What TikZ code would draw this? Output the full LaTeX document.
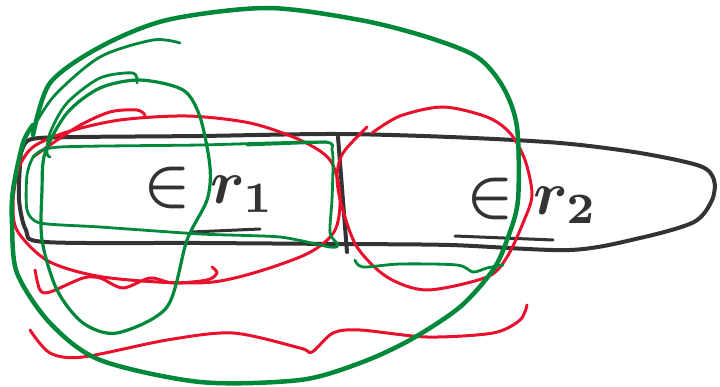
\documentclass[tikz,border=0pt]{standalone}
\definecolor{penred}{HTML}{E8112D}
\definecolor{pengreen}{HTML}{00883A}
\definecolor{penblack}{HTML}{333333}
\begin{document}
\begin{tikzpicture}[x=1pt,y=-1pt,
  inkblack/.style={line width=4pt,penblack,line cap=round,line join=round},
  inkred/.style={line width=3pt,penred,line cap=round,line join=round},
  inkgreen/.style={line width=2.8pt,pengreen,line cap=round,line join=round},
  inkgreenthick/.style={inkgreen,line width=4.5pt},
  handlabel/.style={penblack,scale=6.2,inner sep=0pt,font=\boldmath}]
  \useasboundingbox (0,0) rectangle (720,387);
  % labels
  \node[handlabel] (reg1) at (209,190) {$\in r_1$};
  \node[handlabel] (reg2) at (532,201) {$\in r_2$};
  % the long black shape
  \draw[inkblack] plot[smooth cycle,tension=0.5] coordinates {(22,150) (32,139) (80,137) (200,136)
    (335,134) (450,137) (560,143) (640,153) (700,166) (714,180) (712,200) (694,222) (640,238)
    (570,250) (450,245) (340,244) (200,243) (45,242) (26,230) (19,200) (20,165)};
  \draw[inkblack] (338,137) -- (347,252);
  \draw[inkblack,line width=3pt] (192,232) -- (260,229);
  \draw[inkblack,line width=3pt] (455,236) -- (553,240);
  % red
  \draw[inkred] plot[smooth cycle] coordinates {(13,205) (18,170) (33,147) (67,132) (120,120)
    (187,116) (250,123) (300,140) (330,160) (340,195) (334,232) (300,257) (213,282) (110,278)
    (50,262) (18,232)};
  \draw[inkred] plot[smooth] coordinates {(33,157) (77,127) (110,112) (137,110) (145,115)};
  \draw[inkred] plot[smooth] coordinates {(372,133) (400,116) (443,107) (487,117) (510,133)
    (525,160) (532,195) (523,223) (507,257) (487,277) (427,290) (387,277) (357,247) (342,207)
    (337,177) (343,153) (367,127)};
  \draw[inkred] plot[smooth] coordinates {(35,270) (40,290) (50,292) (83,278) (100,278) (123,288)
    (150,278) (173,283) (207,280) (217,273) (212,267)};
  \draw[inkred] plot[smooth] coordinates {(30,330) (50,353) (83,357) (167,340) (233,333)
    (300,348) (312,352) (333,333) (360,330) (427,337) (493,333) (520,320) (527,305)};
  % green
  \draw[inkgreenthick] plot[smooth] coordinates {(33,135) (50,83) (100,47) (167,20) (267,8)
    (360,20) (427,37) (477,57) (503,87) (517,127) (518,200) (507,240) (493,270) (460,307)
    (410,340) (360,363) (300,380) (200,382) (100,360) (50,323) (17,273) (12,223) (13,190)
    (23,143) (33,125)};
  \draw[inkgreen] plot[smooth] coordinates {(180,43) (153,40) (100,57) (55,95) (33,128)};
  \draw[inkgreen] plot[smooth] coordinates {(137,83) (133,73) (100,78) (67,103) (50,133) (47,153) (50,157)};
  \draw[inkgreen,line width=3.2pt] plot[smooth cycle] coordinates {(140,80) (183,90) (200,117) (210,167) (207,200)
    (187,240) (167,307) (117,333) (83,323) (57,290) (42,240) (42,190) (45,153) (67,113) (100,88)};
  \draw[inkgreen] plot[smooth cycle,tension=0.4] coordinates {(27,175) (35,155) (60,147) (200,145)
    (323,142) (332,150) (333,167) (332,200) (330,233) (338,245) (330,247) (280,237) (200,234)
    (100,227) (40,223) (27,210)};
  \draw[inkgreen] (247,145) -- (327,142);
  \draw[inkgreen] plot[smooth] coordinates {(355,260) (363,267) (400,264) (457,265) (473,272)
    (487,268) (503,265)};
\end{tikzpicture}
\end{document}
